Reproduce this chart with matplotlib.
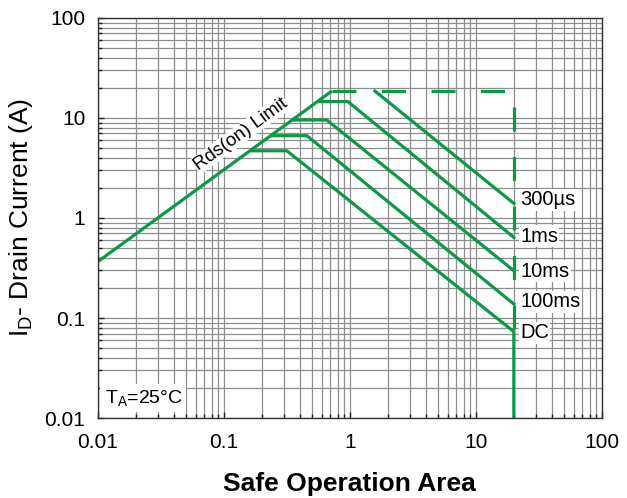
import matplotlib
matplotlib.use("Agg")
import matplotlib.pyplot as plt
from matplotlib.ticker import LogLocator, FixedLocator, NullFormatter

plt.rcParams['font.family'] = ['Liberation Sans', 'DejaVu Sans']
plt.rcParams['mathtext.fontset'] = 'custom'
plt.rcParams['mathtext.rm'] = 'Liberation Sans'
plt.rcParams['mathtext.it'] = 'Liberation Sans:italic'

# Rds(on) limit line
limit_x = [0.01, 0.72]
limit_y = [0.366, 18.6]

# outer boundary (current limit + voltage limit), dashed
bound_x = [0.72, 20, 20]
bound_y = [18.6, 18.6, 0.073]

# pulse curves
curve_names = ["300\u00b5s", "1ms", "10ms", "100ms", "DC"]
curve_x = [
    [1.58, 20],
    [0.578, 0.964, 20],
    [0.353, 0.656, 20],
    [0.24, 0.456, 20],
    [0.167, 0.316, 20, 20],
]
curve_y = [
    [18.6, 1.40],
    [14.6, 14.6, 0.64],
    [9.55, 9.55, 0.297],
    [6.65, 6.65, 0.138],
    [4.7, 4.7, 0.073, 0.01],
]
label_y = [1.52, 0.66, 0.295, 0.145, 0.071]

yticks = [0.01, 0.1, 1, 10, 100]
ytick_labels = ["0.01", "0.1", "1", "10", "100"]
xticks = [0.01, 0.1, 1, 10, 100]
xtick_labels = ["0.01", "0.1", "1", "10", "100"]

green = '#0a9a45'
lw = 2.3

fig = plt.figure(figsize=(6.27, 4.98), dpi=100)
ax = fig.add_axes([0.156, 0.1606, 0.804, 0.8033])
ax.set_xscale('log')
ax.set_yscale('log')
ax.set_xlim(0.01, 100)
ax.set_ylim(0.01, 100)

ax.xaxis.set_major_locator(FixedLocator(xticks))
ax.yaxis.set_major_locator(FixedLocator(yticks))
ax.xaxis.set_minor_locator(LogLocator(base=10, subs=range(2, 10), numticks=20))
ax.yaxis.set_minor_locator(LogLocator(base=10, subs=range(2, 10), numticks=20))
ax.xaxis.set_minor_formatter(NullFormatter())
ax.yaxis.set_minor_formatter(NullFormatter())
ax.set_xticklabels(xtick_labels)
ax.set_yticklabels(ytick_labels)

ax.grid(True, which='both', color='#8f8f8f', linewidth=0.9)
ax.set_axisbelow(True)
ax.tick_params(which='both', direction='in', colors='#222222', labelcolor='black',
               labelsize=15)
ax.tick_params(which='major', length=4, width=1)
ax.tick_params(which='minor', length=3, width=1)
ax.tick_params(axis='x', pad=11)
ax.tick_params(axis='y', pad=9)
for s in ax.spines.values():
    s.set_color('#333333')
    s.set_linewidth(1.0)

ax.plot(limit_x, limit_y, color=green, lw=lw, solid_capstyle='butt')
ax.plot(bound_x, bound_y, color=green, lw=lw, dashes=(7.5, 8), dash_capstyle='butt')
for xs, ys in zip(curve_x, curve_y):
    ax.plot(xs, ys, color=green, lw=lw, solid_joinstyle='round')

for name, ly in zip(curve_names, label_y):
    ax.text(22.5, ly, name, fontsize=14.5, ha='left', va='center',
            bbox=dict(facecolor='white', edgecolor='none', pad=0.8))

ax.text(0.136, 6.9, "Rds(on) Limit", fontsize=13.5, rotation=36,
        rotation_mode='anchor', ha='center', va='center',
        bbox=dict(facecolor='white', edgecolor='none', pad=0.5))

ax.text(0.0113, 0.0158, "T$_{\\mathrm{A}}$=25\u00b0C", fontsize=14, ha='left', va='center',
        bbox=dict(facecolor='white', edgecolor='none', pad=3))

ax.set_ylabel("I$_{\\mathrm{D}}$- Drain Current (A)", fontsize=19, labelpad=7)
ax.set_xlabel("Safe Operation Area", fontsize=19, fontweight='bold', labelpad=14)

fig.savefig("out.png", dpi=100)
